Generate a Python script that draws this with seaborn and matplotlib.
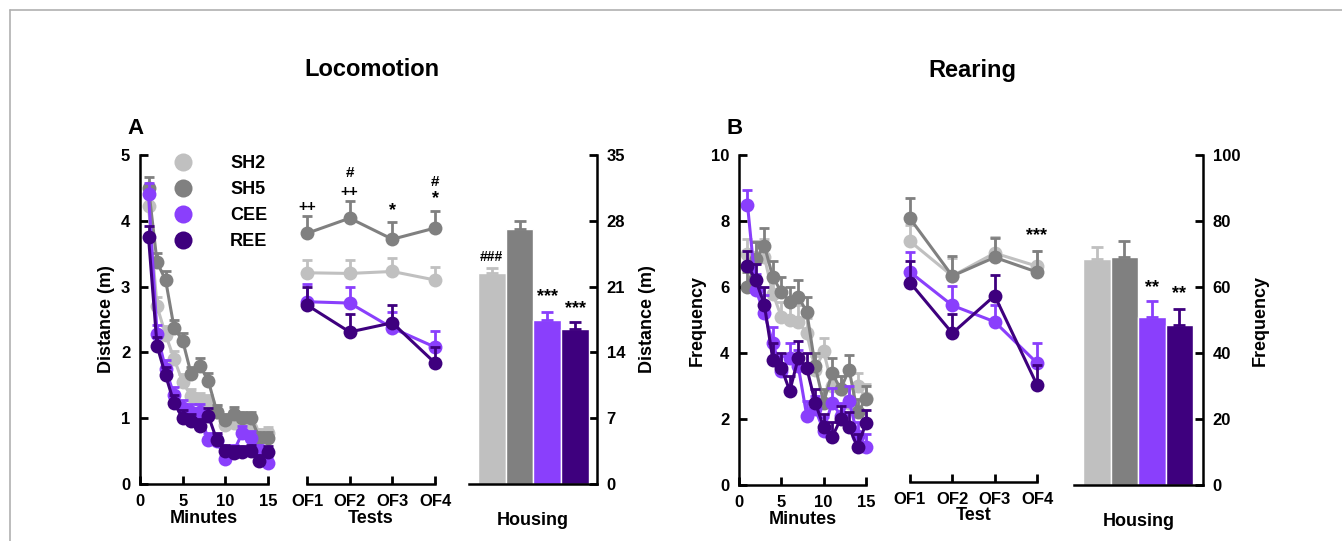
import numpy as np
import pandas as pd
import matplotlib
matplotlib.use('Agg')
import matplotlib.pyplot as plt
from matplotlib.lines import Line2D
import seaborn as sns

# Данные
groups = ['SH2', 'SH5', 'CEE', 'REE']
colors = ['#C0C0C0', '#808080', '#8A3FFC', '#3E007E']
minutes = list(range(1, 16))
tests = ['OF1', 'OF2', 'OF3', 'OF4']

# Locomotion, по минутам (m)
loc_min_sh2 = [4.22, 2.70, 2.27, 1.90, 1.55, 1.33, 1.28, 1.25, 1.10, 0.90, 0.93, 0.85, 0.85, 0.75, 0.78]
loc_min_sh5 = [4.50, 3.37, 3.10, 2.37, 2.18, 1.67, 1.80, 1.57, 1.10, 0.97, 1.07, 1.00, 1.00, 0.70, 0.70]
loc_min_cee = [4.40, 2.28, 1.75, 1.35, 1.15, 1.10, 1.10, 0.67, 0.65, 0.38, 0.50, 0.78, 0.70, 0.50, 0.32]
loc_min_ree = [3.75, 2.10, 1.65, 1.23, 1.00, 0.95, 0.88, 1.04, 0.67, 0.50, 0.47, 0.48, 0.50, 0.35, 0.48]
loc_min_err = [0.17, 0.14, 0.13, 0.12, 0.12, 0.11, 0.11, 0.11, 0.10, 0.10, 0.10, 0.10, 0.10, 0.09, 0.09]

# Locomotion, по тестам (m)
loc_test_sh2 = [3.21, 3.20, 3.23, 3.10]
loc_test_sh5 = [3.81, 4.04, 3.72, 3.89]
loc_test_cee = [2.77, 2.75, 2.37, 2.08]
loc_test_ree = [2.72, 2.31, 2.45, 1.84]
loc_test_err_sh2 = [0.20, 0.20, 0.20, 0.20]
loc_test_err_sh5 = [0.26, 0.26, 0.26, 0.26]
loc_test_err_cee = [0.27, 0.25, 0.25, 0.25]
loc_test_err_ree = [0.27, 0.27, 0.27, 0.24]

# Locomotion, housing (m)
loc_house = [22.4, 27.1, 17.5, 16.5]
loc_house_err = [0.6, 0.9, 0.8, 0.7]

# Rearing, по минутам
rear_min_sh2 = [7.00, 6.90, 6.90, 5.80, 5.10, 5.00, 4.95, 4.60, 3.50, 4.05, 3.00, 2.90, 2.50, 3.00, 2.65]
rear_min_sh5 = [6.00, 6.85, 7.25, 6.30, 5.85, 5.55, 5.70, 5.25, 3.60, 2.50, 3.40, 2.90, 3.50, 2.20, 2.60]
rear_min_cee = [8.50, 5.90, 5.20, 4.30, 3.45, 3.85, 3.60, 2.10, 2.30, 1.65, 2.50, 2.10, 2.55, 1.50, 1.15]
rear_min_ree = [6.65, 6.20, 5.45, 3.80, 3.55, 2.85, 3.85, 3.55, 2.50, 1.75, 1.45, 2.00, 1.75, 1.15, 1.88]
rear_min_err = [0.45, 0.50, 0.55, 0.50, 0.45, 0.45, 0.50, 0.45, 0.40, 0.40, 0.45, 0.40, 0.45, 0.40, 0.40]

# Rearing, по тестам
rear_test_sh2 = [7.36, 6.30, 7.00, 6.60]
rear_test_sh5 = [8.06, 6.30, 6.87, 6.42]
rear_test_cee = [6.42, 5.40, 4.90, 3.64]
rear_test_ree = [6.10, 4.55, 5.70, 2.97]
rear_test_err_sh2 = [0.50, 0.55, 0.50, 0.45]
rear_test_err_sh5 = [0.64, 0.60, 0.60, 0.64]
rear_test_err_cee = [0.60, 0.60, 0.50, 0.60]
rear_test_err_ree = [0.65, 0.60, 0.63, 0.60]

# Rearing, housing
rear_house = [68.5, 69.0, 51.0, 48.5]
rear_house_err = [3.5, 5.0, 4.7, 4.8]

W, H = 1342, 541
sns.set_style('white')
plt.rcParams['font.family'] = ['Liberation Sans', 'DejaVu Sans']
plt.rcParams['font.weight'] = 'bold'
plt.rcParams['axes.labelweight'] = 'bold'
plt.rcParams['axes.linewidth'] = 1.8
plt.rcParams['axes.edgecolor'] = 'black'
plt.rcParams['text.color'] = 'black'
plt.rcParams['axes.labelcolor'] = 'black'
plt.rcParams['xtick.color'] = 'black'
plt.rcParams['ytick.color'] = 'black'
plt.rcParams['xtick.bottom'] = True
plt.rcParams['ytick.left'] = True

fig = plt.figure(figsize=(W / 100, H / 100), dpi=100)


def px_axes(l, r, b, t):
    return fig.add_axes([l / W, (H - b) / H, (r - l) / W, (b - t) / H])


def style_ticks(ax):
    ax.tick_params(direction='in', length=6, width=2, labelsize=12, pad=7,
                   colors='black')
    for lab in ax.get_xticklabels() + ax.get_yticklabels():
        lab.set_fontweight('bold')


def draw_lines(ax, x, series, errs):
    for vals, err, col in zip(series, errs, colors):
        ax.errorbar(x, vals, yerr=[np.zeros(len(vals)), err], fmt='none',
                    ecolor=col, elinewidth=2, capsize=3.5, capthick=2, clip_on=False)
        sns.lineplot(x=x, y=vals, color=col, marker='o', markersize=10,
                     markeredgewidth=0, linewidth=2.2, ax=ax, clip_on=False)


def minutes_axes(ax, series, err, ymax, ystep, ylabel):
    draw_lines(ax, minutes, series, [err] * 4)
    ax.set_xlim(0, 15)
    ax.set_ylim(0, ymax)
    ax.set_xticks([0, 5, 10, 15])
    ax.set_yticks(np.arange(0, ymax + 0.01, ystep))
    ax.spines['top'].set_visible(False)
    ax.spines['right'].set_visible(False)
    ax.set_xlabel('Minutes', fontsize=13, labelpad=1)
    ax.set_ylabel(ylabel, fontsize=13, labelpad=4)
    style_ticks(ax)
    ax.tick_params(bottom=True, left=True)


def tests_axes(ax, series, errs, ymax, xlabel):
    draw_lines(ax, list(range(4)), series, errs)
    ax.set_xlim(0, 3)
    ax.set_ylim(0, ymax)
    ax.set_xticks(range(4))
    ax.set_xticklabels(tests)
    ax.set_yticks([])
    for s in ['top', 'right', 'left']:
        ax.spines[s].set_visible(False)
    ax.set_xlabel(xlabel, fontsize=13, labelpad=1)
    ax.set_ylabel('')
    style_ticks(ax)
    ax.tick_params(axis='x', bottom=True, direction='in', length=6, width=2)


def housing_axes(ax, vals, errs, ymax, ystep, xlim, ylabel):
    sns.barplot(x=groups, y=vals, hue=groups, palette=colors, width=1,
                legend=False, ax=ax, saturation=1)
    for i in range(4):
        ax.errorbar(i, vals[i], yerr=[[0], [errs[i]]], fmt='none',
                    ecolor=colors[i], elinewidth=2, capsize=4, capthick=2)
    ax.set_xlim(*xlim)
    ax.set_ylim(0, ymax)
    ax.set_xticks([])
    ax.set_yticks(np.arange(0, ymax + 0.01, ystep))
    ax.yaxis.tick_right()
    ax.yaxis.set_label_position('right')
    for s in ['top', 'left']:
        ax.spines[s].set_visible(False)
    ax.set_xlabel('Housing', fontsize=13, labelpad=20)
    ax.set_ylabel(ylabel, fontsize=13, labelpad=10)
    style_ticks(ax)
    ax.tick_params(right=True, left=False)


# ---- Locomotion ----
ax1 = px_axes(140, 268, 484, 155)
minutes_axes(ax1, [loc_min_sh2, loc_min_sh5, loc_min_cee, loc_min_ree],
             loc_min_err, 5, 1, 'Distance (m)')
handles = [Line2D([], [], color=c, marker='o', linestyle='none', markersize=13,
                  markeredgewidth=0) for c in colors]
fig.legend(handles, groups, loc='upper left', bbox_to_anchor=(174 / W, 1 - 155 / H),
           frameon=False, prop={'weight': 'bold', 'size': 13}, handlelength=1,
           handletextpad=2.1, labelspacing=0.5, borderpad=0, borderaxespad=0)

ax2 = px_axes(307, 435, 484, 155)
tests_axes(ax2, [loc_test_sh2, loc_test_sh5, loc_test_cee, loc_test_ree],
           [loc_test_err_sh2, loc_test_err_sh5, loc_test_err_cee, loc_test_err_ree],
           5, 'Tests')
for x, y, t in [(0, 4.21, '++'), (1, 4.44, '++'), (1, 4.73, '#'), (2, 4.16, '*'),
                (3, 4.33, '*'), (3, 4.59, '#')]:
    ax2.text(x, y, t, ha='center', va='center', fontsize=13 if t == '*' else 11,
             fontweight='bold')

ax3 = px_axes(469, 597, 484, 155)
housing_axes(ax3, loc_house, loc_house_err, 35, 7, (-0.82, 3.79), 'Distance (m)')
for x, y, t in [(0, 24.1, '###'), (2, 19.9, '***'), (3, 18.7, '***')]:
    ax3.text(x, y, t, ha='center', va='center', fontsize=10 if t == '###' else 13,
             fontweight='bold')

# ---- Rearing ----
ax4 = px_axes(739, 866, 485, 155)
minutes_axes(ax4, [rear_min_sh2, rear_min_sh5, rear_min_cee, rear_min_ree],
             rear_min_err, 10, 2, 'Frequency')

ax5 = px_axes(910, 1037, 482, 155)
tests_axes(ax5, [rear_test_sh2, rear_test_sh5, rear_test_cee, rear_test_ree],
           [rear_test_err_sh2, rear_test_err_sh5, rear_test_err_cee, rear_test_err_ree],
           10, 'Test')
ax5.xaxis.labelpad = 0
ax5.text(3, 7.55, '***', ha='center', va='center', fontsize=13, fontweight='bold')

ax6 = px_axes(1074, 1203, 485, 155)
housing_axes(ax6, rear_house, rear_house_err, 100, 20, (-0.83, 3.86), 'Frequency')
ax6.yaxis.labelpad = 8
for x, y, t in [(2, 59.7, '**'), (3, 58.0, '**')]:
    ax6.text(x, y, t, ha='center', va='center', fontsize=13, fontweight='bold')

# Заголовки
fig.text(372 / W, 1 - 70 / H, 'Locomotion', ha='center', va='center', fontsize=17, fontweight='bold')
fig.text(972 / W, 1 - 70 / H, 'Rearing', ha='center', va='center', fontsize=17, fontweight='bold')
fig.text(135 / W, 1 - 128 / H, 'A', ha='center', va='center', fontsize=16, fontweight='bold')
fig.text(735 / W, 1 - 128 / H, 'B', ha='center', va='center', fontsize=16, fontweight='bold')

# Рамка
fig.add_artist(Line2D([9.5 / W, 9.5 / W], [0, 1 - 10 / H], color='#B0B0B0', linewidth=1.2))
fig.add_artist(Line2D([9.5 / W, 1], [1 - 10 / H, 1 - 10 / H], color='#B0B0B0', linewidth=1.2))

fig.savefig('out.png', dpi=100)
